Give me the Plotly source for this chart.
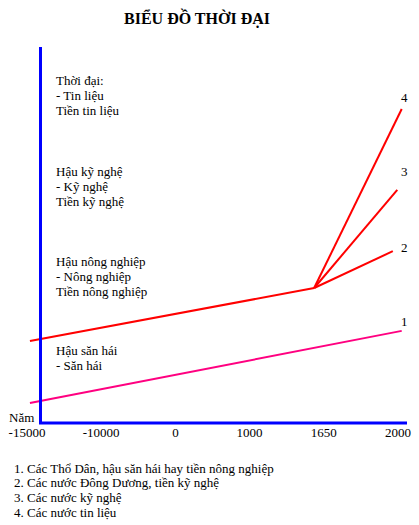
"""Biểu đồ thời đại - recreated with plotly."""

import plotly.graph_objects as go

# tick labels on the time axis (evenly spaced positions, not to scale)
years = ["-15000", "-10000", "0", "1000", "1650", "2000"]
year_pos = [0, 1, 2, 3, 4, 5]

# series 1: hunter-gatherer line (magenta)
line1_x = [0.04, 5.05]
line1_y = [5.3, 24.5]

# red trunk, then three branches (2, 3, 4) out of 1650
trunk_x = [0.04, 3.87]
trunk_y = [21.8, 35.9]
branch_end_x = [4.93, 4.99, 5.05]
branch_end_y = [45.7, 62.0, 83.5]

line_labels = ["1", "2", "3", "4"]
label_y = [26.9, 46.8, 66.8, 86.7]

era_blocks = [
    ["Thời đại:", "- Tin liệu", "Tiền tin liệu"],
    ["Hậu kỹ nghệ", "- Kỹ nghệ", "Tiền kỹ nghệ"],
    ["Hậu nông nghiệp", "- Nông nghiệp", "Tiền nông nghiệp"],
    ["Hậu săn hái", "- Săn hái"],
]
era_top_y = [91.0, 67.0, 43.0, 19.3]

notes = [
    "1. Các Thổ Dân, hậu săn hái hay tiền nông nghiệp",
    "2. Các nước Đông Dương, tiền kỹ nghệ",
    "3. Các nước kỹ nghệ",
    "4. Các nước tin liệu",
]

W, H = 419, 525
L, R, T, B = 20, 8, 47, 102
PW = W - L - R
PH = H - T - B
FONT = "Liberation Serif, Times New Roman, serif"


def paper_x(px):
    return (px - L) / PW


def paper_y(py):
    return (H - B - py) / PH


fig = go.Figure()

fig.add_trace(go.Scatter(
    x=line1_x, y=line1_y, mode="lines",
    line=dict(color="#ff0080", width=2), hoverinfo="skip",
))
fig.add_trace(go.Scatter(
    x=trunk_x, y=trunk_y, mode="lines",
    line=dict(color="#ff0000", width=2), hoverinfo="skip",
))
for bx, by in zip(branch_end_x, branch_end_y):
    fig.add_trace(go.Scatter(
        x=[trunk_x[-1], bx], y=[trunk_y[-1], by], mode="lines",
        line=dict(color="#ff0000", width=2), hoverinfo="skip",
    ))

annotations = []
for lab, ly in zip(line_labels, label_y):
    annotations.append(dict(x=5.09, y=ly, xref="x", yref="y", text=lab,
                            showarrow=False, xanchor="center", yanchor="middle",
                            font=dict(size=13)))

line_step = 15 / (PH / 100)
for block, top in zip(era_blocks, era_top_y):
    for k, txt in enumerate(block):
        annotations.append(dict(x=0.364, y=top - k * line_step, xref="x", yref="y",
                                text=txt, showarrow=False, xanchor="left",
                                yanchor="middle", font=dict(size=13)))

annotations.append(dict(x=paper_x(21), y=paper_y(417), xref="paper", yref="paper",
                        text="Năm", showarrow=False, xanchor="center",
                        yanchor="middle", font=dict(size=13)))

for k, txt in enumerate(notes):
    annotations.append(dict(x=paper_x(12), y=paper_y(468 + k * 14.7),
                            xref="paper", yref="paper", text=txt,
                            showarrow=False, xanchor="left", yanchor="middle",
                            font=dict(size=13)))

fig.update_layout(
    width=W, height=H,
    margin=dict(l=L, r=R, t=T, b=B),
    paper_bgcolor="white", plot_bgcolor="white",
    showlegend=False,
    font=dict(family=FONT, size=13, color="black"),
    title=dict(text="<b>BIỂU ĐỒ THỜI ĐẠI</b>", x=paper_x(197), xref="paper",
               xanchor="center", y=1 - 18 / H, yanchor="middle",
               font=dict(size=16, color="black")),
    xaxis=dict(range=[-0.094, 5.175], tickvals=year_pos, ticktext=years,
               showgrid=False, zeroline=False, showline=False, ticks="",
               tickfont=dict(size=13)),
    yaxis=dict(range=[0, 100], anchor="free", position=paper_x(40),
               showline=True, linecolor="#0000ff", linewidth=3,
               showgrid=False, zeroline=False, showticklabels=False, ticks=""),
    annotations=annotations,
)

# blue base line of the time axis, starting at the vertical axis
fig.add_shape(type="line", xref="paper", yref="paper",
              x0=paper_x(39), x1=paper_x(407), y0=0, y1=0,
              line=dict(color="#0000ff", width=3))

# page body has a default 8px margin; drop it so the figure sits at 0,0
fig.write_html("out.html", config={"displayModeBar": False},
               post_script="document.body.style.margin='0';"
                           "document.body.style.overflow='hidden';")
